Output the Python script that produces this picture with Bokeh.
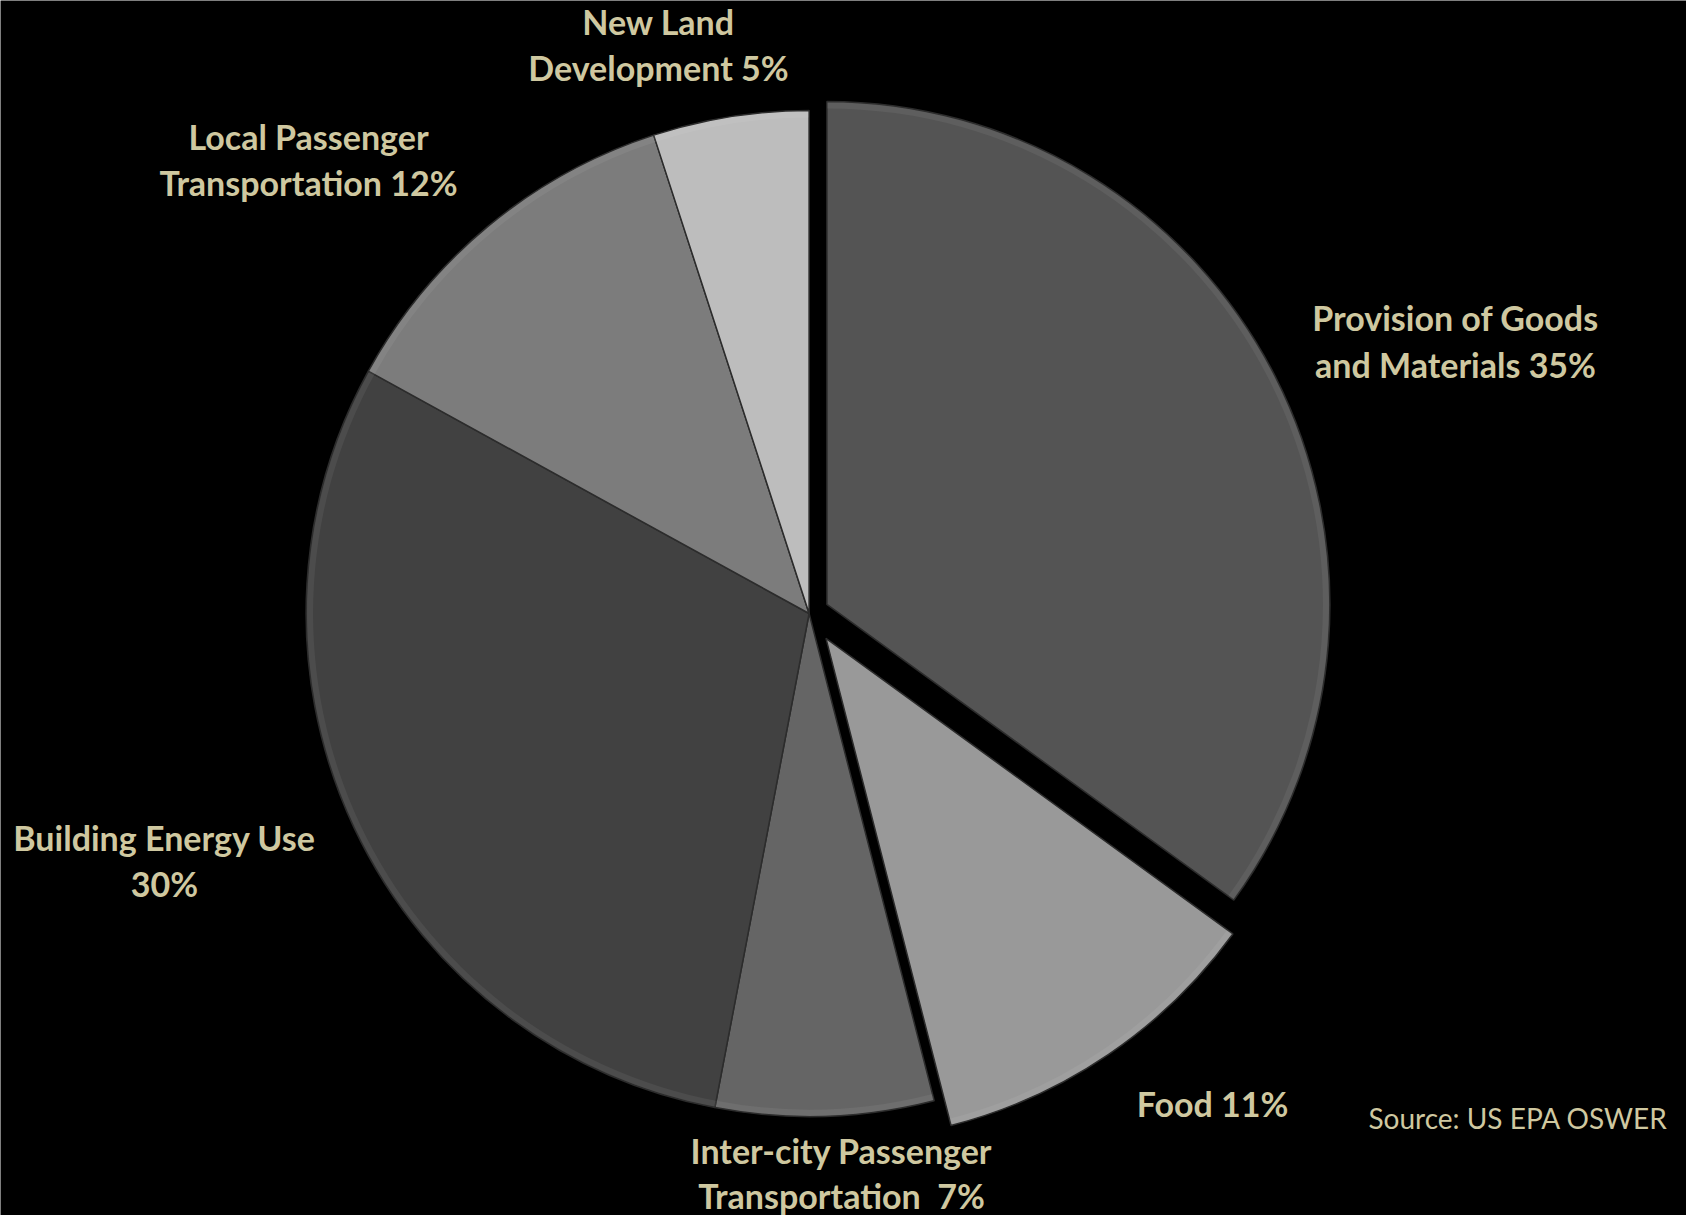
import math
from bokeh.plotting import figure
from bokeh.models import Range1d, ColumnDataSource
from bokeh.core.properties import value
from bokeh.embed import file_html
from bokeh.resources import INLINE

# ---- data ----
categories = ["Provision of Goods and Materials", "Food",
              "Inter-city Passenger Transportation", "Building Energy Use",
              "Local Passenger Transportation", "New Land Development"]
shares = [35, 11, 7, 30, 12, 5]
label_lines = [["Provision of Goods", "and Materials 35%"],
               ["Food 11%"],
               ["Inter-city Passenger", "Transportation \u00a07%"],
               ["Building Energy Use", "30%"],
               ["Local Passenger", "Transportation 12%"],
               ["New Land", "Development 5%"]]
source_note = "Source: US EPA OSWER"

# ---- style ----
colors = ["#545454", "#999999", "#656565", "#414141", "#7c7c7c", "#bdbdbd"]
explode = [20, 30, 0, 0, 0, 0]
W, H = 1686, 1215
cx, cy, r = 808.6, H - 613, 503
label_pos = [[(1455, 317), (1455, 364)],
             [(1212, 1103)],
             [(841, 1150), (841, 1195)],
             [(164, 837), (164, 883)],
             [(308, 136), (308, 182)],
             [(658, 21), (658, 67)]]
TXT = "#cfc8a0"

p = figure(width=W, height=H, output_backend="svg", toolbar_location=None,
           x_range=Range1d(0, W), y_range=Range1d(0, H), min_border=0)
p.background_fill_color = "black"
p.border_fill_color = "black"
p.outline_line_color = None
p.axis.visible = False
p.grid.visible = False

total = sum(shares)
cum = 0.0
xs, ys, sa, ea = [], [], [], []
for s, ex in zip(shares, explode):
    t0 = cum / total * 2 * math.pi
    cum += s
    t1 = cum / total * 2 * math.pi
    mid = (t0 + t1) / 2
    xs.append(cx + ex * math.sin(mid))
    ys.append(cy + ex * math.cos(mid))
    sa.append(math.pi / 2 - t1)
    ea.append(math.pi / 2 - t0)

src = ColumnDataSource(dict(x=xs, y=ys, sa=sa, ea=ea, color=colors, name=categories))
p.wedge(x="x", y="y", radius=r, start_angle="sa", end_angle="ea",
        fill_color="color", line_color="#2c2c2c", line_width=1.5, source=src)
# bevel highlight along outer rim
p.annular_wedge(x="x", y="y", inner_radius=r - 7, outer_radius=r - 1,
                start_angle="sa", end_angle="ea", fill_color="white",
                fill_alpha=0.06, line_color=None, source=src)

for lines, poss in zip(label_lines, label_pos):
    for t, (lx, ly) in zip(lines, poss):
        p.text(x=[lx], y=[H - ly], text=[t], text_align="center",
               text_baseline="middle", text_color=TXT, text_font=value("Lato"),
               text_font_style="bold", text_font_size="34px")

p.text(x=[1368], y=[H - 1117], text=[source_note], text_align="left",
       text_baseline="middle", text_color=TXT, text_font=value("Lato"),
       text_font_size="28px")

open("out.html", "w").write(file_html(p, INLINE))
